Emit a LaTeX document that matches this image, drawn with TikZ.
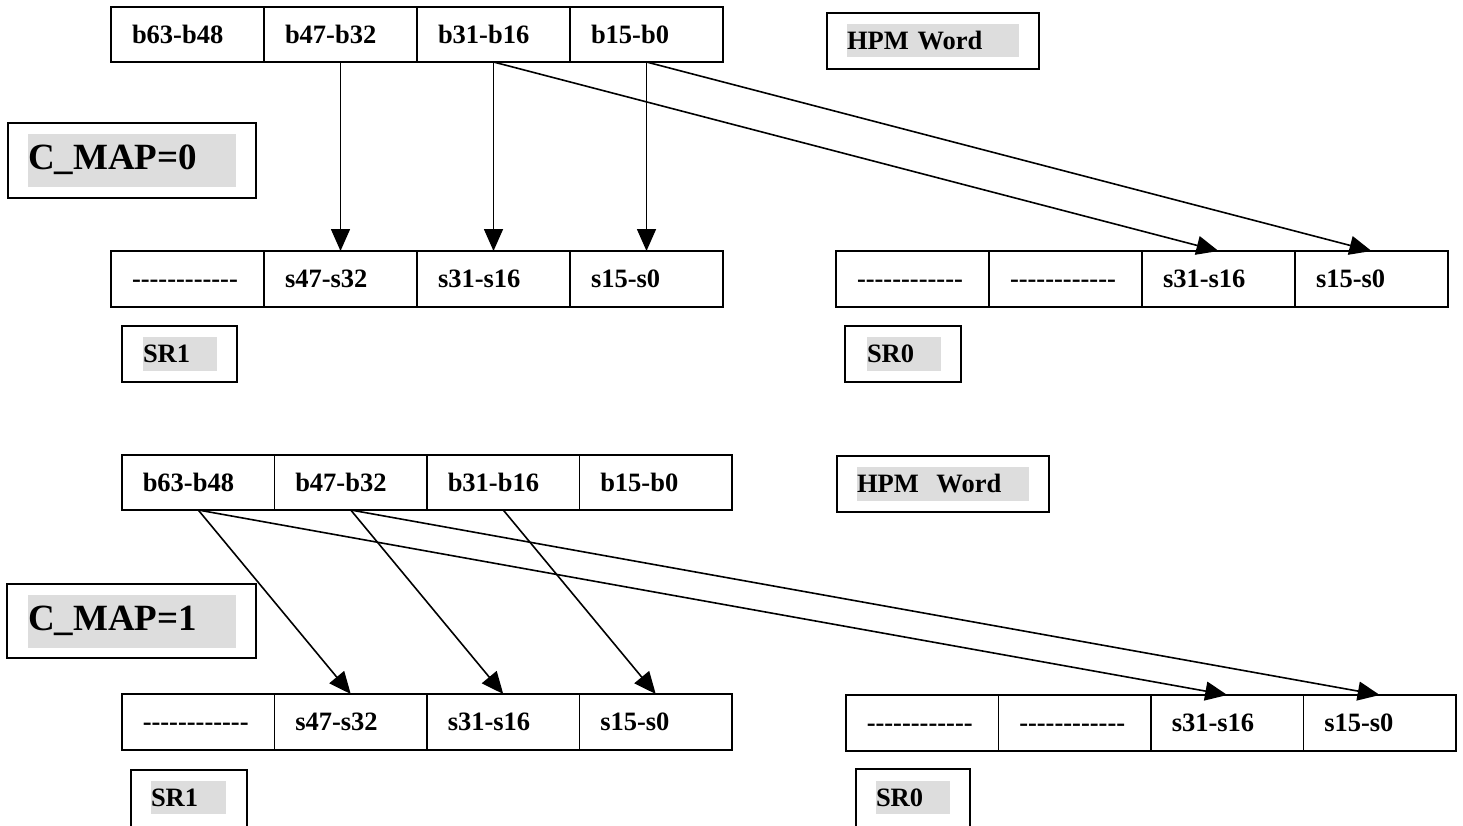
\documentclass[tikz,border=0pt]{standalone}
\usepackage{fontspec}
\setmainfont{Liberation Serif}
\usetikzlibrary{arrows.meta}
\definecolor{hlgray}{RGB}{221,221,221}
\newcommand\tabfont{\fontsize{26.5}{30}\selectfont\bfseries}
\newcommand\bigfont{\fontsize{37}{42}\selectfont\bfseries}
\newcommand\dashrow{-\kern0pt-\kern0pt-\kern0pt-\kern0pt-\kern0pt-\kern0pt-\kern0pt-\kern0pt-\kern0pt-\kern0pt-\kern0pt-}
\newcommand\mkrow[9]{%
  \node[cell, minimum width=#4pt, minimum height=#5pt] (#1-a) at (#2,#3) {#6};
  \node[cell, minimum width=#4pt, minimum height=#5pt] (#1-b) at ({#2+#4},#3) {#7};
  \node[cell, minimum width=#4pt, minimum height=#5pt] (#1-c) at ({#2+2*#4},#3) {#8};
  \node[cell, minimum width=#4pt, minimum height=#5pt] (#1-d) at ({#2+3*#4},#3) {#9};
}
\tikzset{
  cell/.style={draw, line width=1.8pt, outer sep=0pt, inner sep=0pt, anchor=north west,
    text width=111pt, align=left, text height=17.5pt, text depth=0pt, font=\tabfont},
  lbl/.style={draw, line width=1.9pt, outer sep=0pt, inner sep=0pt, anchor=north west},
  hl/.style={fill=hlgray, inner sep=0pt, outer sep=0pt, anchor=north west, align=left,
    font=\tabfont, text height=17pt, text depth=0pt},
  bighl/.style={hl, font=\bigfont, text height=25pt, text depth=8pt},
  arr/.style={-{Triangle[length=22pt,width=19pt]}, line width=1.6pt},
}
\begin{document}
\begin{tikzpicture}[x=1pt,y=-1pt]
\useasboundingbox (0,0) rectangle (1463,825);

% ---------- C_MAP = 0 ----------
\mkrow{hpmA}{111}{7}{153}{55}{b63-b48}{b47-b32}{b31-b16}{b15-b0}
\mkrow{srAone}{111}{251}{153}{56}{\dashrow}{s47-s32}{s31-s16}{s15-s0}
\mkrow{srAzero}{836}{251}{153}{56}{\dashrow}{\dashrow}{s31-s16}{s15-s0}

\node[lbl, minimum width=212pt, minimum height=56pt] (hpmwA) at (827,13) {};
\node[hl, text width=172pt, minimum height=33pt] (hpmwA-t) at (847,24) {HPM Word};

\node[lbl, minimum width=248pt, minimum height=75pt] (cmapA) at (8,123) {};
\node[bighl, text width=208pt, minimum height=53pt] (cmapA-t) at (28,134) {C\_MAP=0};

\node[lbl, minimum width=115pt, minimum height=56pt] (sroneA) at (122,326) {};
\node[hl, text width=74pt, minimum height=34pt] (sroneA-t) at (143,337) {SR1};

\node[lbl, minimum width=116pt, minimum height=56pt] (srzeroA) at (845,326) {};
\node[hl, text width=74pt, minimum height=34pt] (srzeroA-t) at (867,337) {SR0};

\draw[arr] (hpmA-b.south) -- (srAone-b.north);
\draw[arr] (hpmA-c.south) -- (srAone-c.north);
\draw[arr] (hpmA-d.south) -- (srAone-d.north);
\draw[arr] (hpmA-c.south) -- (srAzero-c.north);
\draw[arr] (hpmA-d.south) -- (srAzero-d.north);

% ---------- C_MAP = 1 ----------
\mkrow{hpmB}{122}{455}{152.5}{55}{b63-b48}{b47-b32}{b31-b16}{b15-b0}
\mkrow{srBone}{122}{694}{152.5}{56}{\dashrow}{s47-s32}{s31-s16}{s15-s0}
\mkrow{srBzero}{846}{695}{152.5}{56}{\dashrow}{\dashrow}{s31-s16}{s15-s0}

\node[lbl, minimum width=212pt, minimum height=56pt] (hpmwB) at (837,456) {};
\node[hl, text width=172pt, minimum height=34pt] (hpmwB-t) at (857,467) {HPM\ \ Word};

\node[lbl, minimum width=249pt, minimum height=74pt] (cmapB) at (7,584) {};
\node[bighl, text width=208pt, minimum height=53pt] (cmapB-t) at (28,595) {C\_MAP=1};

\node[lbl, minimum width=116pt, minimum height=60pt] (sroneB) at (131,770) {};
\node[hl, text width=75pt, minimum height=33pt] (sroneB-t) at (151,781) {SR1};

\node[lbl, minimum width=114pt, minimum height=60pt] (srzeroB) at (856,769) {};
\node[hl, text width=74pt, minimum height=33pt] (srzeroB-t) at (876,781) {SR0};

\draw[arr] (hpmB-a.south) -- (srBone-b.north);
\draw[arr] (hpmB-b.south) -- (srBone-c.north);
\draw[arr] (hpmB-c.south) -- (srBone-d.north);
\draw[arr] (hpmB-a.south) -- (srBzero-c.north);
\draw[arr] (hpmB-b.south) -- (srBzero-d.north);
\end{tikzpicture}
\end{document}
